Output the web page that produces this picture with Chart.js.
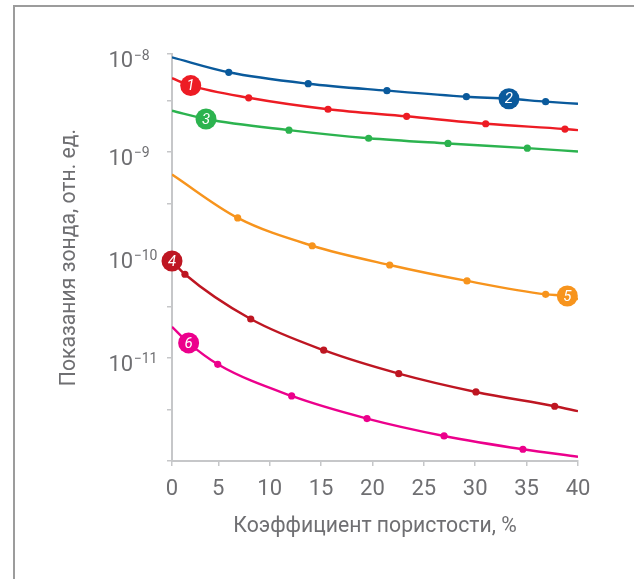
<!DOCTYPE html>
<html lang="ru">
<head>
<meta charset="utf-8">
<title>Показания зонда</title>
<script src="https://cdn.jsdelivr.net/npm/chart.js@4.4.1/dist/chart.umd.min.js"></script>
<style>
  html, body { margin: 0; padding: 0; background: #ffffff; }
  #wrap { position: relative; width: 634px; height: 579px; overflow: hidden; }
  #frame {
    position: absolute; left: 13px; top: 5px; width: 700px; height: 700px;
    border-left: 2px solid #9c9c9c; border-top: 2px solid #9c9c9c;
  }
  #chart { position: absolute; left: 0; top: 0; }
</style>
</head>
<body>
<div id="wrap">
  <div id="frame"></div>
  <canvas id="chart" width="634" height="579"></canvas>
</div>
<script>
// Axis ticks
const xTickValues = [0.5, 5, 10, 15, 20, 25, 30, 35, 40];
const xTickLabels = ['0', '5', '10', '15', '20', '25', '30', '35', '40'];
const yTickValues = [1e-12, 3.162e-12, 1e-11, 3.162e-11, 1e-10, 3.162e-10, 1e-9, 3.162e-9, 8.94e-9];
const yTickExponents = ['', '', '−11', '', '−10', '', '−9', '', '−8'];

// Curve 1
const marksX1 = [7.96, 15.68, 23.33, 31.02, 38.73];
const marksY1 = [3.36e-9, 2.60e-9, 2.22e-9, 1.88e-9, 1.67e-9];
const endsY1 = [5.20e-9, 1.63e-9];
// Curve 2
const marksX2 = [6.02, 13.75, 21.41, 29.14, 36.85];
const marksY2 = [5.94e-9, 4.60e-9, 3.94e-9, 3.44e-9, 3.08e-9];
const endsY2 = [8.30e-9, 2.94e-9];
// Curve 3
const marksX3 = [11.88, 19.63, 27.35, 35.07];
const marksY3 = [1.63e-9, 1.36e-9, 1.21e-9, 1.09e-9];
const endsY3 = [2.52e-9, 1.01e-9];
// Curve 4
const marksX4 = [1.76, 8.16, 15.26, 22.56, 30.07, 37.73];
const marksY4 = [6.5e-11, 2.39e-11, 1.19e-11, 7.05e-12, 4.68e-12, 3.40e-12];
const endsY4 = [8.75e-11, 3.05e-12];
// Curve 5
const marksX5 = [6.89, 14.14, 21.68, 29.2, 36.85];
const marksY5 = [2.29e-10, 1.23e-10, 8.0e-11, 5.6e-11, 4.15e-11];
const endsY5 = [6.03e-10, 3.74e-11];
// Curve 6
const marksX6 = [4.95, 12.14, 19.47, 26.97, 34.64];
const marksY6 = [8.69e-12, 4.28e-12, 2.58e-12, 1.75e-12, 1.30e-12];
const endsY6 = [2.01e-11, 1.10e-12];

// Numbered badges sitting on the curves
const badgeText = ['1', '2', '3', '4', '5', '6'];
const badgeX = [2.32, 33.28, 3.81, 0.5, 38.96, 2.12];
const badgeY = [4.41e-9, 3.29e-9, 2.09e-9, 8.75e-11, 4.0e-11, 1.40e-11];

const X_MIN = 0.5, X_MAX = 40;
const Y_MIN = 1e-12, Y_MAX = 8.94e-9;

const curveColors = ['#ed1c24', '#0a5a9c', '#2cb34f', '#be1622', '#f7941d', '#ec008c'];
const textGray = '#6f6f72';
const axisGray = '#c6c7c9';

const marksX = [marksX1, marksX2, marksX3, marksX4, marksX5, marksX6];
const marksY = [marksY1, marksY2, marksY3, marksY4, marksY5, marksY6];
const endsY = [endsY1, endsY2, endsY3, endsY4, endsY5, endsY6];

function curvePoints(i) {
  const pts = [{ x: X_MIN, y: endsY[i][0] }, { x: X_MAX, y: endsY[i][1] }, { x: badgeX[i], y: badgeY[i] }];
  marksX[i].forEach((x, k) => pts.push({ x, y: marksY[i][k] }));
  pts.sort((a, b) => a.x - b.x);
  return pts.filter((p, k) => k === 0 || p.x !== pts[k - 1].x);
}

const datasets = [];
for (let i = 0; i < 6; i++) {
  datasets.push({
    label: 'Кривая ' + badgeText[i],
    data: curvePoints(i),
    borderColor: curveColors[i],
    borderWidth: 2.4,
    pointRadius: 0,
    cubicInterpolationMode: 'monotone',
    fill: false
  });
  datasets.push({
    label: 'Точки ' + badgeText[i],
    data: marksX[i].map((x, k) => ({ x, y: marksY[i][k] })),
    showLine: false,
    pointRadius: 3.6,
    pointBorderWidth: 0,
    pointBackgroundColor: curveColors[i],
    borderColor: curveColors[i]
  });
}

const FONT = 'Roboto, "Noto Sans", sans-serif';

// Y labels: "10" with a raised exponent
const powerLabels = {
  id: 'powerLabels',
  afterDraw(chart) {
    const ctx = chart.ctx, y = chart.scales.y;
    ctx.save();
    ctx.fillStyle = textGray;
    ctx.textBaseline = 'alphabetic';
    ctx.textAlign = 'left';
    yTickValues.forEach((v, k) => {
      const exp = yTickExponents[k];
      if (!exp) return;
      const py = y.getPixelForValue(v);
      ctx.font = '22px ' + FONT;
      ctx.fillText('10', 108.5, py + 13);
      const w = ctx.measureText('10').width;
      ctx.font = '14px ' + FONT;
      ctx.fillText(exp, 108.5 + w + 0.5, py + 5.5);
    });
    ctx.restore();
  }
};

// Round numbered badges on the curves
const badges = {
  id: 'badges',
  afterDatasetsDraw(chart) {
    const ctx = chart.ctx, xs = chart.scales.x, ys = chart.scales.y;
    ctx.save();
    badgeText.forEach((t, i) => {
      const px = xs.getPixelForValue(badgeX[i]);
      const py = ys.getPixelForValue(badgeY[i]);
      ctx.beginPath();
      ctx.arc(px, py, 10.5, 0, Math.PI * 2);
      ctx.fillStyle = curveColors[i];
      ctx.fill();
      ctx.fillStyle = '#ffffff';
      ctx.font = 'italic 15px ' + FONT;
      ctx.textAlign = 'center';
      ctx.textBaseline = 'middle';
      ctx.fillText(t, px, py + 1);
    });
    ctx.restore();
  }
};

new Chart(document.getElementById('chart'), {
  type: 'line',
  data: { datasets },
  plugins: [badges, powerLabels],
  options: {
    responsive: false,
    animation: false,
    events: [],
    layout: { padding: { top: 54, right: 56, left: 0, bottom: 0 } },
    plugins: { legend: { display: false }, tooltip: { enabled: false } },
    scales: {
      x: {
        type: 'linear',
        min: X_MIN,
        max: X_MAX,
        afterBuildTicks(scale) { scale.ticks = xTickValues.map(v => ({ value: v })); },
        afterFit(scale) { scale.height = 118; },
        ticks: {
          autoSkip: false,
          maxRotation: 0,
          padding: 10,
          color: textGray,
          font: { family: FONT, size: 22 },
          callback: (v, i) => xTickLabels[i]
        },
        grid: { drawOnChartArea: false, drawTicks: true, tickLength: 5, color: axisGray, lineWidth: 1.5 },
        border: { display: true, color: axisGray, width: 2 },
        title: {
          display: true,
          text: 'Коэффициент пористости, %',
          color: textGray,
          font: { family: FONT, size: 21.2 },
          padding: { top: 0, bottom: 40 }
        }
      },
      y: {
        type: 'logarithmic',
        min: Y_MIN,
        max: Y_MAX,
        afterBuildTicks(scale) { scale.ticks = yTickValues.map(v => ({ value: v })); },
        afterFit(scale) { scale.width = 172; },
        ticks: { callback: () => '', padding: 0 },
        grid: { drawOnChartArea: false, drawTicks: true, tickLength: 5, color: axisGray, lineWidth: 1.5 },
        border: { display: true, color: axisGray, width: 2 },
        title: {
          display: true,
          text: 'Показания зонда, отн. ед.',
          color: textGray,
          font: { family: FONT, size: 21.2 },
          padding: { top: 57, bottom: 0 }
        }
      }
    }
  }
});
</script>
</body>
</html>
